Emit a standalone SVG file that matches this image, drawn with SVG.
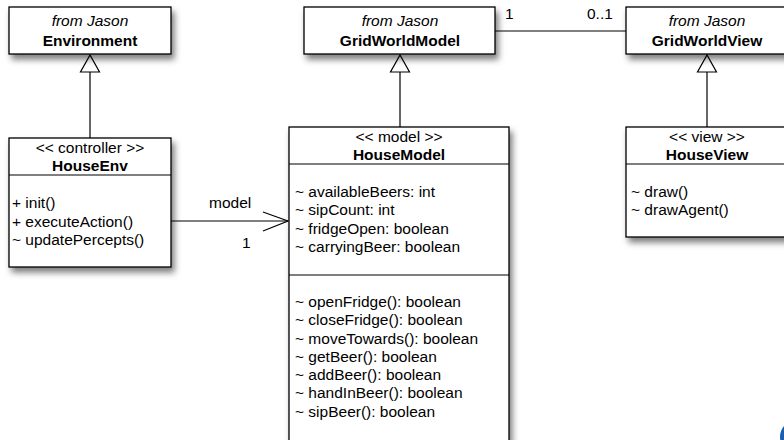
<svg xmlns="http://www.w3.org/2000/svg" width="784" height="440" viewBox="0 0 784 440">
<style>
.box{fill:#fff;stroke:#000;stroke-width:1.3}
.ln{stroke:#000;stroke-width:1.2;fill:none}
text{font-family:"Liberation Sans",Arial,sans-serif;font-size:15.5px;fill:#000}
.c{text-anchor:middle}
.i{font-style:italic}
.b{font-weight:bold}
</style>
<defs>
<filter id="sh" x="-20%" y="-20%" width="150%" height="150%">
<feDropShadow dx="3" dy="5" stdDeviation="3" flood-color="#000" flood-opacity="0.5"/>
</filter>
</defs>
<g id="connectors">
<line class="ln" x1="90" y1="138" x2="90" y2="72"/>
<path d="M80.5,72 L99.5,72 L90,55 Z" fill="#fff" stroke="#000" stroke-width="1.2"/>
<line class="ln" x1="400" y1="127" x2="400" y2="72"/>
<path d="M390.5,72 L409.5,72 L400,55 Z" fill="#fff" stroke="#000" stroke-width="1.2"/>
<line class="ln" x1="707" y1="127" x2="707" y2="72"/>
<path d="M697.5,72 L716.5,72 L707,55 Z" fill="#fff" stroke="#000" stroke-width="1.2"/>
<line class="ln" x1="495" y1="31" x2="626" y2="31"/>
<text x="505" y="19">1</text>
<text x="587" y="19">0..1</text>
<line class="ln" x1="171" y1="221" x2="288" y2="221"/>
<path class="ln" d="M263,212 L288,221 L263,231"/>
<text x="209" y="208">model</text>
<text x="242" y="248">1</text>
</g>
<g id="Environment">
<rect class="box" x="9" y="7" width="162" height="47" filter="url(#sh)"/>
<text class="c i" x="90" y="26">from Jason</text>
<text class="c b" x="90" y="46">Environment</text>
</g>
<g id="GridWorldModel">
<rect class="box" x="304" y="7" width="191" height="47" filter="url(#sh)"/>
<text class="c i" x="400" y="26">from Jason</text>
<text class="c b" x="400" y="46">GridWorldModel</text>
</g>
<g id="GridWorldView">
<rect class="box" x="626" y="7" width="162" height="47" filter="url(#sh)"/>
<text class="c i" x="707" y="26">from Jason</text>
<text class="c b" x="707" y="46">GridWorldView</text>
</g>
<g id="HouseEnv">
<rect class="box" x="9" y="138" width="162" height="129" filter="url(#sh)"/>
<line class="ln" x1="9" y1="175" x2="171" y2="175"/>
<text class="c" x="90" y="153">&lt;&lt; controller &gt;&gt;</text>
<text class="c b" x="90" y="171">HouseEnv</text>
<text x="12" y="208">+ init()</text>
<text x="12" y="227">+ executeAction()</text>
<text x="12" y="245">~ updatePercepts()</text>
</g>
<g id="HouseModel">
<rect class="box" x="289" y="127" width="220" height="330" filter="url(#sh)"/>
<line class="ln" x1="289" y1="164" x2="509" y2="164"/>
<line class="ln" x1="289" y1="275" x2="509" y2="275"/>
<text class="c" x="399" y="142">&lt;&lt; model &gt;&gt;</text>
<text class="c b" x="399" y="160">HouseModel</text>
<text x="295" y="197">~ availableBeers: int</text>
<text x="295" y="215">~ sipCount: int</text>
<text x="295" y="234">~ fridgeOpen: boolean</text>
<text x="295" y="252">~ carryingBeer: boolean</text>
<text x="295" y="307">~ openFridge(): boolean</text>
<text x="295" y="325">~ closeFridge(): boolean</text>
<text x="295" y="344">~ moveTowards(): boolean</text>
<text x="295" y="362">~ getBeer(): boolean</text>
<text x="295" y="380">~ addBeer(): boolean</text>
<text x="295" y="398">~ handInBeer(): boolean</text>
<text x="295" y="417">~ sipBeer(): boolean</text>
</g>
<g id="HouseView">
<rect class="box" x="626" y="127" width="162" height="110" filter="url(#sh)"/>
<line class="ln" x1="626" y1="164" x2="788" y2="164"/>
<text class="c" x="707" y="142">&lt;&lt; view &gt;&gt;</text>
<text class="c b" x="707" y="160">HouseView</text>
<text x="631" y="197">~ draw()</text>
<text x="631" y="215">~ drawAgent()</text>
</g>
<circle cx="797" cy="437" r="17" fill="#1a5fb0"/>
</svg>
